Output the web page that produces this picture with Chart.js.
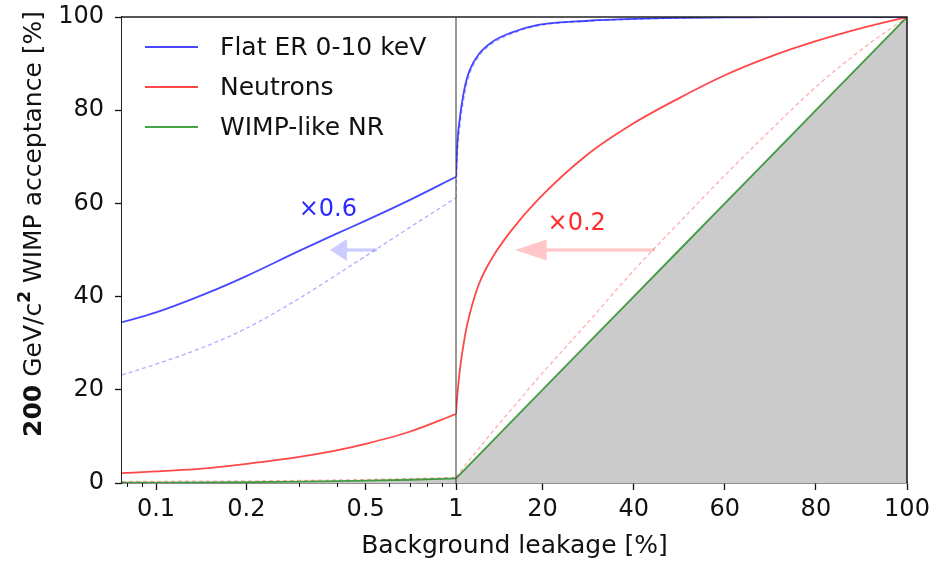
<!DOCTYPE html>
<html>
<head>
<meta charset="utf-8">
<script src="https://cdn.jsdelivr.net/npm/chart.js@4.4.0/dist/chart.umd.min.js"></script>
<style>
html,body{margin:0;padding:0;background:#fff}
#wrap{width:937px;height:562px}
</style>
</head>
<body>
<div id="wrap"><canvas id="chart" width="937" height="562"></canvas></div>
<script>
// series names (legend)
const seriesNames=['Flat ER 0-10 keV','Neutrons','WIMP-like NR'];

// left panel: log leakage 0.077..1 %
const leakLog=[0.077,0.1,0.15,0.2,0.3,0.4,0.5,0.7,1];
const erLog=[34.5,36.6,40.9,44.4,49.8,53.5,56.3,60.7,65.7];
const erScaledLog=[23.2,25.5,29.6,33.2,39.6,44.7,48.7,54.8,61.2];
const nLog=[2.1,2.5,3.2,4.1,5.6,7.0,8.4,11,14.8];
const nScaledLog=[0.3,0.35,0.4,0.45,0.55,0.65,0.75,0.95,1.2];
const wimpLog=[0.077,0.1,0.15,0.2,0.3,0.4,0.5,0.7,1];

// right panel: linear leakage 1..100 %
const leakLin=[1,1.3,1.8,3,4,6,9,13,19,30,40,50,60,70,80,90,100];
const erLin=[65.7,73,78,85.3,88.6,92,94.7,96.6,98.3,99.2,99.6,99.8,99.9,100,100,100,100];
const erScaledLin=[61.2,70,76,84,87.8,91.5,94.3,96.3,98.1,99.1,99.5,99.8,99.9,100,100,100,100];
const nLin=[14.8,18.9,23.9,31.8,36.2,42.6,48.4,54,60.8,70.6,77.2,82.6,87.5,91.5,94.8,97.6,100];
const nScaledLin=[1.2,1.6,2.3,3.8,5,7.4,11,15.6,22.5,34.5,45.6,55.9,66,75.7,85,93,100];
const wimpLin=[1,1.3,1.8,3,4,6,9,13,19,30,40,50,60,70,80,90,100];

// ticks
const logTicks=[0.1,0.2,0.5,1];
const logMinor=[0.08,0.09,0.3,0.4,0.6,0.7,0.8,0.9];
const linTicks=[20,40,60,80,100];

// annotations (data coords)
const notes=[
  {text:'\u00d70.6',axis:'xl',x:0.374,y:58.6,color:'#2b2bff'},
  {text:'\u00d70.2',axis:'xr',x:27.5,y:55.6,color:'#ff2b2b'}
];
const arrows=[
  {axis:'xl',from:0.545,to:0.38,y:50,color:'rgba(0,0,255,0.2)',head:17,half:11},
  {axis:'xr',from:44.6,to:13.9,y:50,color:'rgba(255,0,0,0.22)',head:32,half:10.5}
];

const FONT='"DejaVu Sans", sans-serif';
const BLUE='rgba(0,0,255,0.72)', RED='rgba(255,0,0,0.72)', GREEN='rgba(0,128,0,0.72)';
const BLUE_D='rgba(0,0,255,0.32)', RED_D='rgba(255,0,0,0.32)';

function pts(xs,ys){return xs.map((x,i)=>({x:x,y:ys[i]}));}
function line(label,axis,xs,ys,color,dash,extra){
  return Object.assign({label:label,xAxisID:axis,yAxisID:'y',data:pts(xs,ys),borderColor:color,
    borderWidth:dash?1.3:1.8,borderDash:dash?[4,3]:[],pointRadius:0,fill:false,
    cubicInterpolationMode:'monotone'},extra||{});
}

const datasets=[
  line(seriesNames[0],'xl',leakLog,erLog,BLUE,false),
  line(seriesNames[1],'xl',leakLog,nLog,RED,false),
  line(seriesNames[2],'xl',leakLog,wimpLog,GREEN,false,{fill:'origin',backgroundColor:'#cbcbcb'}),
  line('er scaled','xl',leakLog,erScaledLog,BLUE_D,true),
  line('n scaled','xl',leakLog,nScaledLog,RED_D,true),
  line(seriesNames[0],'xr',leakLin,erLin,BLUE,false),
  line(seriesNames[1],'xr',leakLin,nLin,RED,false),
  line('er scaled','xr',leakLin,erScaledLin,BLUE_D,true),
  line('n scaled','xr',leakLin,nScaledLin,RED_D,true),
  line(seriesNames[2],'xr',leakLin,wimpLin,GREEN,false,{fill:'origin',backgroundColor:'#cbcbcb',cubicInterpolationMode:'default',tension:0})
];

const tickFont={family:FONT,size:24};
const grid={drawOnChartArea:false,drawTicks:true,tickLength:7,tickColor:'#111',tickWidth:1.3};
const border={display:true,color:'#222',width:1.6};

const decor={
  id:'decor',
  beforeDatasetsDraw(chart){
    const {ctx,chartArea:a}=chart;
    ctx.save();ctx.fillStyle='#fff';ctx.fillRect(a.left,a.top,a.right-a.left,a.bottom-a.top);ctx.restore();
  },
  afterDraw(chart){
    const {ctx,chartArea:a,scales}=chart;
    const xl=scales.xl, xr=scales.xr, y=scales.y;
    ctx.save();
    // arrows
    arrows.forEach(ar=>{
      const s=scales[ar.axis];
      const x0=s.getPixelForValue(ar.from), x1=s.getPixelForValue(ar.to), yy=y.getPixelForValue(ar.y);
      ctx.fillStyle=ar.color;
      ctx.fillRect(Math.min(x0,x1+ar.head),yy-1.6,Math.abs(x0-(x1+ar.head)),3.2);
      ctx.beginPath();ctx.moveTo(x1,yy);ctx.lineTo(x1+ar.head,yy-ar.half);ctx.lineTo(x1+ar.head,yy+ar.half);ctx.closePath();ctx.fill();
    });
    // annotation text
    ctx.font='24px '+FONT;ctx.textAlign='center';ctx.textBaseline='middle';
    notes.forEach(n=>{
      ctx.fillStyle=n.color;
      ctx.fillText(n.text,scales[n.axis].getPixelForValue(n.x),y.getPixelForValue(n.y));
    });
    // frame: top + right spine, divider at 1 %
    ctx.strokeStyle='#222';ctx.lineWidth=1.6;
    ctx.beginPath();ctx.moveTo(a.left,a.top);ctx.lineTo(a.right,a.top);ctx.lineTo(a.right,a.bottom);ctx.stroke();
    ctx.strokeStyle='#444';ctx.lineWidth=1.1;
    const xd=xr.left;
    ctx.beginPath();ctx.moveTo(xd,a.top);ctx.lineTo(xd,a.bottom);ctx.stroke();
    // minor log ticks
    ctx.strokeStyle='#111';ctx.lineWidth=1;
    logMinor.forEach(v=>{
      const px=Math.round(xl.getPixelForValue(v))+0.5;
      ctx.beginPath();ctx.moveTo(px,a.bottom);ctx.lineTo(px,a.bottom+4);ctx.stroke();
    });
    // legend
    ctx.font='25px '+FONT;ctx.textAlign='left';ctx.textBaseline='middle';
    const lc=[BLUE,RED,GREEN];
    seriesNames.forEach((nm,i)=>{
      const ly=a.top+30+i*40;
      ctx.strokeStyle=lc[i];ctx.lineWidth=1.8;
      ctx.beginPath();ctx.moveTo(a.left+23,ly);ctx.lineTo(a.left+76,ly);ctx.stroke();
      ctx.fillStyle='#111';ctx.fillText(nm,a.left+98,ly+1);
    });
    // x title
    ctx.font='25px '+FONT;ctx.textAlign='center';ctx.fillStyle='#111';
    ctx.fillText('Background leakage [%]',(a.left+a.right)/2,546);
    // y title with bold 200 and superscript 2
    const parts=[
      {t:'200',f:'bold 25px '+FONT,dy:0},
      {t:' GeV/c',f:'25px '+FONT,dy:0},
      {t:'2',f:'bold 17px '+FONT,dy:-8},
      {t:' WIMP acceptance [%]',f:'25px '+FONT,dy:0}
    ];
    let total=0;
    parts.forEach(p=>{ctx.font=p.f;p.w=ctx.measureText(p.t).width;total+=p.w;});
    ctx.translate(33,224+total/2);ctx.rotate(-Math.PI/2);
    ctx.textAlign='left';ctx.textBaseline='middle';
    let cx=0;
    parts.forEach(p=>{ctx.font=p.f;ctx.fillText(p.t,cx,p.dy+1);cx+=p.w;});
    ctx.restore();
  }
};

new Chart(document.getElementById('chart'),{
  type:'line',
  data:{datasets:datasets},
  options:{
    responsive:false,animation:false,devicePixelRatio:1,
    layout:{padding:{top:17,right:30,left:0,bottom:0}},
    plugins:{legend:{display:false},tooltip:{enabled:false}},
    scales:{
      xl:{type:'logarithmic',position:'bottom',stack:'x',stackWeight:334,min:0.077,max:1,
        afterBuildTicks:s=>{s.ticks=logTicks.map(v=>({value:v}));},
        afterFit:s=>{s.height=79;s.paddingLeft=0;s.paddingRight=0;},
        grid:grid,border:border,
        ticks:{color:'#111',font:tickFont,padding:5,maxRotation:0,autoSkip:false,callback:v=>String(v)}},
      xr:{type:'linear',position:'bottom',stack:'x',stackWeight:451,min:1,max:100,
        afterBuildTicks:s=>{s.ticks=linTicks.map(v=>({value:v}));},
        afterFit:s=>{s.height=79;s.paddingLeft=0;s.paddingRight=0;},
        grid:grid,border:border,
        ticks:{color:'#111',font:tickFont,padding:5,maxRotation:0,autoSkip:false,callback:v=>String(v)}},
      y:{type:'linear',position:'left',min:0,max:100,
        afterFit:s=>{s.width=122;s.paddingTop=0;s.paddingBottom=0;},
        grid:grid,border:border,
        ticks:{color:'#111',font:tickFont,padding:11,stepSize:20}}
    }
  },
  plugins:[decor]
});
</script>
</body>
</html>
